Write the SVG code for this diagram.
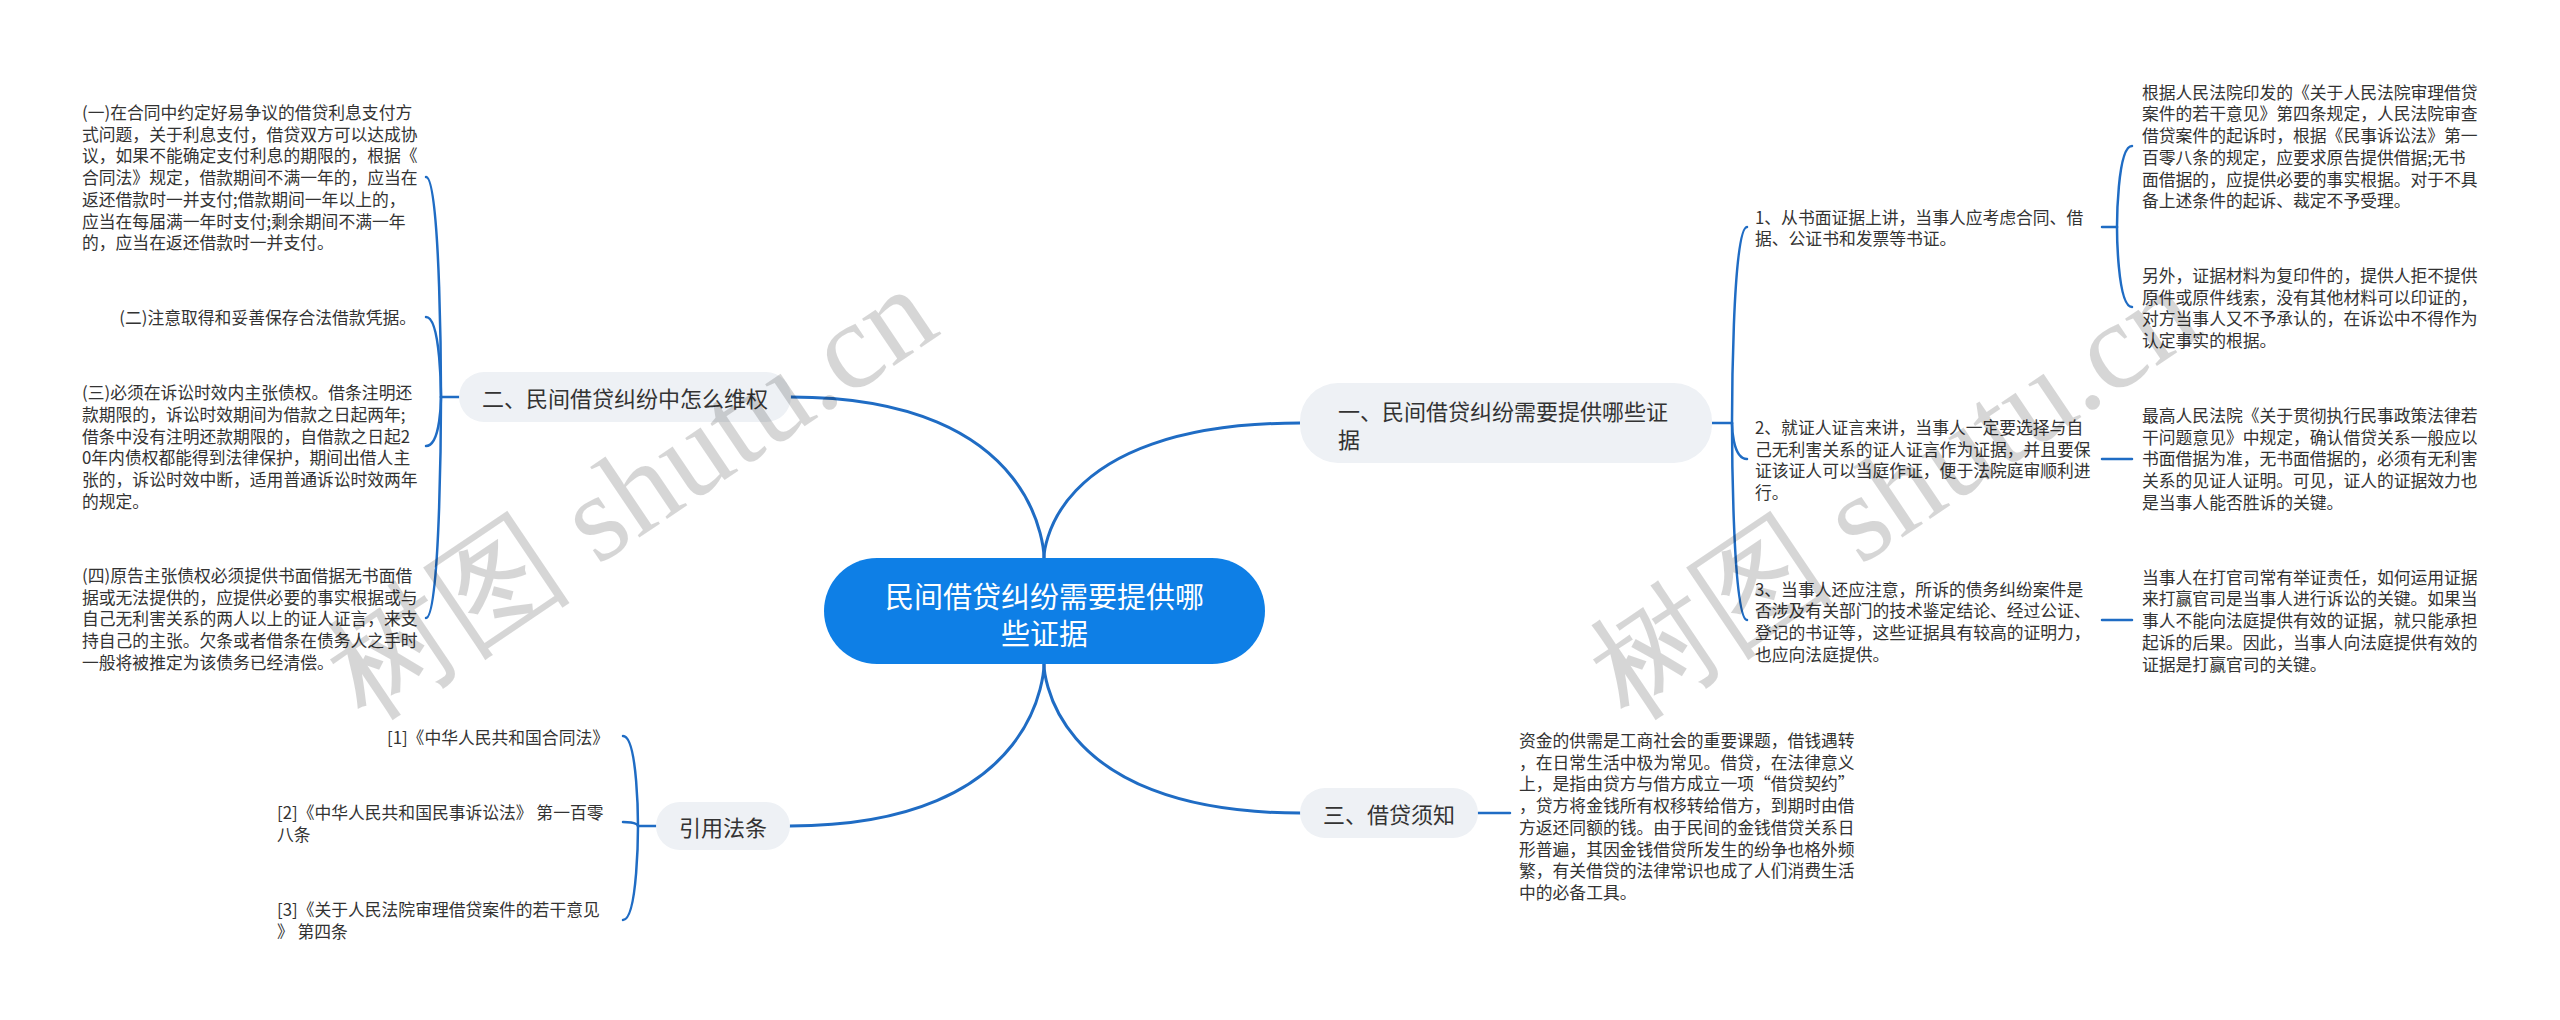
<svg xmlns="http://www.w3.org/2000/svg" width="2560" height="1020" viewBox="0 0 2560 1020">
<style>
.t{font-family:"Noto Sans CJK SC","Noto Sans",sans-serif;font-size:16.8px;fill:#333333;dominant-baseline:central}
.nt{font-family:"Noto Sans CJK SC","Noto Sans",sans-serif;font-size:22px;fill:#333333;dominant-baseline:central}
.ct{font-family:"Noto Sans CJK SC","Noto Sans",sans-serif;font-size:29px;fill:#ffffff;dominant-baseline:central;text-anchor:middle}
.nd{fill:#eef1f5}
.lk{fill:none;stroke:#1f6cc4;stroke-width:2.5;stroke-linecap:round}
.mk{fill:none;stroke:#1f6cc4;stroke-width:3;stroke-linecap:round}
.wm{font-family:"Liberation Serif","DejaVu Serif",serif;font-size:124px;fill:#000000;fill-opacity:0.16}
</style>
<rect width="2560" height="1020" fill="#ffffff"/>
<g id="connectors">
<path class="mk" d="M1044 558 C1044 558 1044 423 1300 423"/>
<path class="mk" d="M1044 558 C1044 558 1044 397 791 397"/>
<path class="mk" d="M1044 664 C1044 664 1044 813 1300 813"/>
<path class="mk" d="M1044 664 C1044 664 1044 826 790 826"/>
<path class="lk" d="M1712 423 H1732"/>
<path class="lk" d="M1732 423 C1732 423 1732 227 1747 227"/>
<path class="lk" d="M1732 423 C1732 423 1732 459 1747 459"/>
<path class="lk" d="M1732 423 C1732 423 1732 620 1747 620"/>
<path class="lk" d="M2102 227 H2117"/>
<path class="lk" d="M2117 227 C2117 227 2117 146 2132 146"/>
<path class="lk" d="M2117 227 C2117 227 2117 307 2132 307"/>
<path class="lk" d="M2102 459 H2132"/>
<path class="lk" d="M2102 620 H2132"/>
<path class="lk" d="M1478 813 H1510"/>
<path class="lk" d="M459 397 H441"/>
<path class="lk" d="M441 397 C441 397 441 177 426 177"/>
<path class="lk" d="M441 397 C441 397 441 317 426 317"/>
<path class="lk" d="M441 397 C441 397 441 446 426 446"/>
<path class="lk" d="M441 397 C441 397 441 618 426 618"/>
<path class="lk" d="M656 826 H638"/>
<path class="lk" d="M638 826 C638 826 638 736 623 736"/>
<path class="lk" d="M638 826 C638 826 638 822 623 822"/>
<path class="lk" d="M638 826 C638 826 638 920 623 920"/>
</g>
<g id="center">
<rect x="824" y="558" width="441" height="106" rx="53" fill="#0e7fe6"/>
<text class="ct"><tspan x="1044.5" y="595">民间借贷纠纷需要提供哪</tspan><tspan x="1044.5" y="632">些证据</tspan></text>
</g>
<g id="n1">
<rect class="nd" x="1300" y="383" width="412" height="80" rx="38"/>
<text class="nt"><tspan x="1338" y="410">一、民间借贷纠纷需要提供哪些证</tspan><tspan x="1338" y="438">据</tspan></text>
</g>
<g id="n2">
<rect class="nd" x="459" y="372" width="332" height="50" rx="25"/>
<text class="nt" x="625" y="397" text-anchor="middle">二、民间借贷纠纷中怎么维权</text>
</g>
<g id="n3">
<rect class="nd" x="1300" y="788" width="178" height="50" rx="25"/>
<text class="nt" x="1389" y="813" text-anchor="middle">三、借贷须知</text>
</g>
<g id="n4">
<rect class="nd" x="656" y="802" width="134" height="48" rx="24"/>
<text class="nt" x="723" y="826" text-anchor="middle">引用法条</text>
</g>
<g id="n1-1">
<text class="t"><tspan x="1755" y="216.5">1、从书面证据上讲，当事人应考虑合同、借</tspan><tspan x="1755" y="238.2">据、公证书和发票等书证。</tspan></text>
</g>
<g id="n1-2">
<text class="t"><tspan x="1755" y="427">2、就证人证言来讲，当事人一定要选择与自</tspan><tspan x="1755" y="448.7">己无利害关系的证人证言作为证据，并且要保</tspan><tspan x="1755" y="470.4">证该证人可以当庭作证，便于法院庭审顺利进</tspan><tspan x="1755" y="492.1">行。</tspan></text>
</g>
<g id="n1-3">
<text class="t"><tspan x="1755" y="588.5">3、当事人还应注意，所诉的债务纠纷案件是</tspan><tspan x="1755" y="610.2">否涉及有关部门的技术鉴定结论、经过公证、</tspan><tspan x="1755" y="631.9">登记的书证等，这些证据具有较高的证明力，</tspan><tspan x="1755" y="653.6">也应向法庭提供。</tspan></text>
</g>
<g id="n1-1-1">
<text class="t"><tspan x="2142" y="91.7">根据人民法院印发的《关于人民法院审理借贷</tspan><tspan x="2142" y="113.4">案件的若干意见》第四条规定，人民法院审查</tspan><tspan x="2142" y="135.1">借贷案件的起诉时，根据《民事诉讼法》第一</tspan><tspan x="2142" y="156.8">百零八条的规定，应要求原告提供借据;无书</tspan><tspan x="2142" y="178.5">面借据的，应提供必要的事实根据。对于不具</tspan><tspan x="2142" y="200.2">备上述条件的起诉、裁定不予受理。</tspan></text>
</g>
<g id="n1-1-2">
<text class="t"><tspan x="2142" y="275">另外，证据材料为复印件的，提供人拒不提供</tspan><tspan x="2142" y="296.7">原件或原件线索，没有其他材料可以印证的，</tspan><tspan x="2142" y="318.4">对方当事人又不予承认的，在诉讼中不得作为</tspan><tspan x="2142" y="340.1">认定事实的根据。</tspan></text>
</g>
<g id="n1-2-1">
<text class="t"><tspan x="2142" y="415">最高人民法院《关于贯彻执行民事政策法律若</tspan><tspan x="2142" y="436.7">干问题意见》中规定，确认借贷关系一般应以</tspan><tspan x="2142" y="458.4">书面借据为准，无书面借据的，必须有无利害</tspan><tspan x="2142" y="480.1">关系的见证人证明。可见，证人的证据效力也</tspan><tspan x="2142" y="501.8">是当事人能否胜诉的关键。</tspan></text>
</g>
<g id="n1-3-1">
<text class="t"><tspan x="2142" y="576.7">当事人在打官司常有举证责任，如何运用证据</tspan><tspan x="2142" y="598.4">来打赢官司是当事人进行诉讼的关键。如果当</tspan><tspan x="2142" y="620.1">事人不能向法庭提供有效的证据，就只能承担</tspan><tspan x="2142" y="641.8">起诉的后果。因此，当事人向法庭提供有效的</tspan><tspan x="2142" y="663.5">证据是打赢官司的关键。</tspan></text>
</g>
<g id="n3-1">
<text class="t"><tspan x="1519" y="740">资金的供需是工商社会的重要课题，借钱遇转</tspan><tspan x="1519" y="761.7">，在日常生活中极为常见。借贷，在法律意义</tspan><tspan x="1519" y="783.4">上，是指由贷方与借方成立一项“借贷契约”</tspan><tspan x="1519" y="805.1">，贷方将金钱所有权移转给借方，到期时由借</tspan><tspan x="1519" y="826.8">方返还同额的钱。由于民间的金钱借贷关系日</tspan><tspan x="1519" y="848.5">形普遍，其因金钱借贷所发生的纷争也格外频</tspan><tspan x="1519" y="870.2">繁，有关借贷的法律常识也成了人们消费生活</tspan><tspan x="1519" y="891.9">中的必备工具。</tspan></text>
</g>
<g id="n2-1">
<text class="t"><tspan x="82" y="112">(一)在合同中约定好易争议的借贷利息支付方</tspan><tspan x="82" y="133.7">式问题，关于利息支付，借贷双方可以达成协</tspan><tspan x="82" y="155.4">议，如果不能确定支付利息的期限的，根据《</tspan><tspan x="82" y="177.1">合同法》规定，借款期间不满一年的，应当在</tspan><tspan x="82" y="198.8">返还借款时一并支付;借款期间一年以上的，</tspan><tspan x="82" y="220.5">应当在每届满一年时支付;剩余期间不满一年</tspan><tspan x="82" y="242.2">的，应当在返还借款时一并支付。</tspan></text>
</g>
<g id="n2-2">
<text class="t" x="416" y="317" text-anchor="end">(二)注意取得和妥善保存合法借款凭据。</text>
</g>
<g id="n2-3">
<text class="t"><tspan x="82" y="392.3">(三)必须在诉讼时效内主张债权。借条注明还</tspan><tspan x="82" y="414">款期限的，诉讼时效期间为借款之日起两年;</tspan><tspan x="82" y="435.7">借条中没有注明还款期限的，自借款之日起2</tspan><tspan x="82" y="457.4">0年内债权都能得到法律保护，期间出借人主</tspan><tspan x="82" y="479.1">张的，诉讼时效中断，适用普通诉讼时效两年</tspan><tspan x="82" y="500.8">的规定。</tspan></text>
</g>
<g id="n2-4">
<text class="t"><tspan x="82" y="575">(四)原告主张债权必须提供书面借据无书面借</tspan><tspan x="82" y="596.7">据或无法提供的，应提供必要的事实根据或与</tspan><tspan x="82" y="618.4">自己无利害关系的两人以上的证人证言，来支</tspan><tspan x="82" y="640.1">持自己的主张。欠条或者借条在债务人之手时</tspan><tspan x="82" y="661.8">一般将被推定为该债务已经清偿。</tspan></text>
</g>
<g id="n4-1">
<text class="t" x="609" y="737" text-anchor="end">[1]《中华人民共和国合同法》</text>
</g>
<g id="n4-2">
<text class="t"><tspan x="277" y="812">[2]《中华人民共和国民事诉讼法》 第一百零</tspan><tspan x="277" y="833.7">八条</tspan></text>
</g>
<g id="n4-3">
<text class="t"><tspan x="277" y="909">[3]《关于人民法院审理借贷案件的若干意见</tspan><tspan x="277" y="930.7">》 第四条</tspan></text>
</g>
<g id="watermark">
<text class="wm" transform="translate(366 722) rotate(-34)">树图 shutu.cn</text>
<text class="wm" transform="translate(1629 722) rotate(-34)">树图 shutu.cn</text>
</g>
</svg>
